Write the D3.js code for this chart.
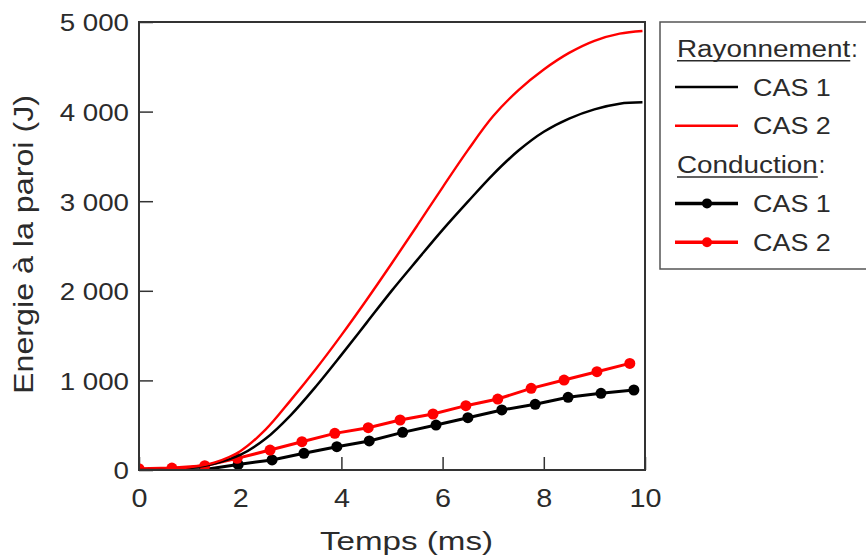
<!DOCTYPE html>
<html>
<head>
<meta charset="utf-8">
<script src="https://cdn.jsdelivr.net/npm/d3@7"></script>
<style>
  html, body { margin: 0; padding: 0; background: #fff; }
  svg { display: block; }
  text { font-family: "Liberation Sans", Arial, sans-serif; fill: #2b2b2b; }
</style>
</head>
<body>
<svg id="chart" width="866" height="559"></svg>
<script>
// ---- data ----
const radT = [0, 0.5, 1, 1.5, 2, 2.5, 3, 3.5, 4, 4.5, 5, 5.5, 6, 6.5, 7, 7.5, 8, 8.5, 9, 9.5, 9.95];
const rayCas1 = [0, 3, 23, 73, 168, 348, 613, 935, 1285, 1645, 2005, 2345, 2680, 2995, 3300, 3565, 3775, 3922, 4025, 4088, 4103];
const rayCas2 = [0, 5, 30, 85, 210, 450, 780, 1130, 1505, 1900, 2310, 2730, 3155, 3570, 3950, 4240, 4470, 4655, 4790, 4870, 4900];

const condT1 = [0, 0.65, 1.3, 1.96, 2.63, 3.26, 3.91, 4.55, 5.21, 5.87, 6.5, 7.17, 7.83, 8.48, 9.13, 9.78];
const condCas1 = [0, 0, 5, 62, 112, 186, 260, 324, 420, 502, 584, 670, 733, 811, 856, 893];
const condT2 = [0, 0.65, 1.3, 1.94, 2.59, 3.22, 3.87, 4.53, 5.16, 5.81, 6.46, 7.09, 7.75, 8.4, 9.05, 9.7];
const condCas2 = [15, 22, 48, 130, 223, 316, 409, 472, 558, 625, 718, 792, 911, 1004, 1097, 1190];

const xTicks = [0, 2, 4, 6, 8, 10];
const xTickLabels = ["0", "2", "4", "6", "8", "10"];
const yTicks = [0, 1000, 2000, 3000, 4000, 5000];
const yTickLabels = ["0", "1 000", "2 000", "3 000", "4 000", "5 000"];

const xTitle = "Temps (ms)";
const yTitle = "Energie à la paroi (J)";
const legendGroups = [
  { title: "Rayonnement", items: [
    { label: "CAS 1", color: "#000000", marker: false },
    { label: "CAS 2", color: "#ff0000", marker: false } ] },
  { title: "Conduction", items: [
    { label: "CAS 1", color: "#000000", marker: true },
    { label: "CAS 2", color: "#ff0000", marker: true } ] }
];

// ---- layout ----
const L = 139, R = 645, T = 22, B = 470;
const svg = d3.select("#chart");
const x = d3.scaleLinear().domain([0, 10]).range([L, R]);
const y = d3.scaleLinear().domain([0, 5000]).range([B, T]);

function fit(sel, factor) {
  sel.each(function () {
    const w = this.getComputedTextLength();
    d3.select(this).attr("textLength", w * factor).attr("lengthAdjust", "spacingAndGlyphs");
  });
}

// clip
svg.append("defs").append("clipPath").attr("id", "plotclip")
  .append("rect").attr("x", L).attr("y", T).attr("width", R - L).attr("height", B - T);

// axes
const yAxis = svg.append("g").attr("transform", `translate(${L},0)`)
  .call(d3.axisLeft(y).tickValues(yTicks).tickSize(-14).tickPadding(10)
    .tickFormat((d, i) => yTickLabels[i]));
yAxis.select(".domain").remove();
yAxis.selectAll(".tick line").attr("stroke", "#333").attr("stroke-width", 1.5);
yAxis.selectAll(".tick text").attr("font-size", 24.5).attr("fill", "#2b2b2b")
  .attr("dy", "0.36em").style("font-family", "'Liberation Sans', Arial, sans-serif").call(fit, 1.13);

const xAxis = svg.append("g").attr("transform", `translate(0,${B})`)
  .call(d3.axisBottom(x).tickValues(xTicks).tickSize(-13).tickPadding(19)
    .tickFormat((d, i) => xTickLabels[i]));
xAxis.select(".domain").remove();
xAxis.selectAll(".tick line").attr("stroke", "#333").attr("stroke-width", 1.5);
xAxis.selectAll(".tick text").attr("font-size", 25).attr("fill", "#2b2b2b")
  .style("font-family", "'Liberation Sans', Arial, sans-serif").call(fit, 1.15);

// series
const plot = svg.append("g").attr("clip-path", "url(#plotclip)");
const line = d3.line().x(d => x(d[0])).y(d => y(d[1])).curve(d3.curveCatmullRom.alpha(0.5));
const straight = d3.line().x(d => x(d[0])).y(d => y(d[1]));

const ray1 = radT.map((t, i) => [t, rayCas1[i]]);
const ray2 = radT.map((t, i) => [t, rayCas2[i]]);
const c1 = condT1.map((t, i) => [t, condCas1[i]]);
const c2 = condT2.map((t, i) => [t, condCas2[i]]);

plot.append("path").datum(c1).attr("d", straight).attr("fill", "none")
  .attr("stroke", "#000").attr("stroke-width", 3);
plot.selectAll(".m1").data(c1).join("circle").attr("class", "m1")
  .attr("cx", d => x(d[0])).attr("cy", d => y(d[1])).attr("r", 5.5).attr("fill", "#000");
plot.append("path").datum(c2).attr("d", straight).attr("fill", "none")
  .attr("stroke", "#ff0000").attr("stroke-width", 3);
plot.selectAll(".m2").data(c2).join("circle").attr("class", "m2")
  .attr("cx", d => x(d[0])).attr("cy", d => y(d[1])).attr("r", 5.5).attr("fill", "#ff0000");

plot.append("path").datum(ray1).attr("d", line).attr("fill", "none")
  .attr("stroke", "#000").attr("stroke-width", 2.5);
plot.append("path").datum(ray2).attr("d", line).attr("fill", "none")
  .attr("stroke", "#ff0000").attr("stroke-width", 2.4);

// frame
svg.append("rect").attr("x", L).attr("y", T).attr("width", R - L).attr("height", B - T)
  .attr("fill", "none").attr("stroke", "#333").attr("stroke-width", 2);

// titles
svg.append("text").attr("x", 406.5).attr("y", 550).attr("text-anchor", "middle")
  .attr("font-size", 26.5).text(xTitle).call(fit, 1.25);
svg.append("text").attr("transform", "translate(33,244.5) rotate(-90)").attr("text-anchor", "middle")
  .attr("font-size", 28).text(yTitle).call(fit, 1.15);

// legend
const lg = svg.append("g");
lg.append("rect").attr("x", 660).attr("y", 22).attr("width", 230).attr("height", 247)
  .attr("fill", "#fff").attr("stroke", "#555").attr("stroke-width", 1.5);
let rowY = 56.7;
legendGroups.forEach(g => {
  const t = lg.append("text").attr("x", 677).attr("y", rowY).attr("font-size", 23).text(g.title).call(fit, 1.21);
  const w = +t.attr("textLength");
  lg.append("line").attr("x1", 677).attr("x2", 677 + w).attr("y1", rowY + 4).attr("y2", rowY + 4)
    .attr("stroke", "#2b2b2b").attr("stroke-width", 1.5);
  lg.append("text").attr("x", 677 + w + 1).attr("y", rowY).attr("font-size", 23).text(":");
  rowY += 38.8;
  g.items.forEach(it => {
    const ly = rowY - 8.5;
    lg.append("line").attr("x1", 675).attr("x2", 738).attr("y1", ly).attr("y2", ly)
      .attr("stroke", it.color).attr("stroke-width", it.marker ? 3.5 : 2.6);
    if (it.marker) {
      lg.append("circle").attr("cx", 707).attr("cy", ly).attr("r", 5).attr("fill", it.color);
    }
    lg.append("text").attr("x", 753).attr("y", rowY).attr("font-size", 23).text(it.label).call(fit, 1.17);
    rowY += 38.8;
  });
});
</script>
</body>
</html>
